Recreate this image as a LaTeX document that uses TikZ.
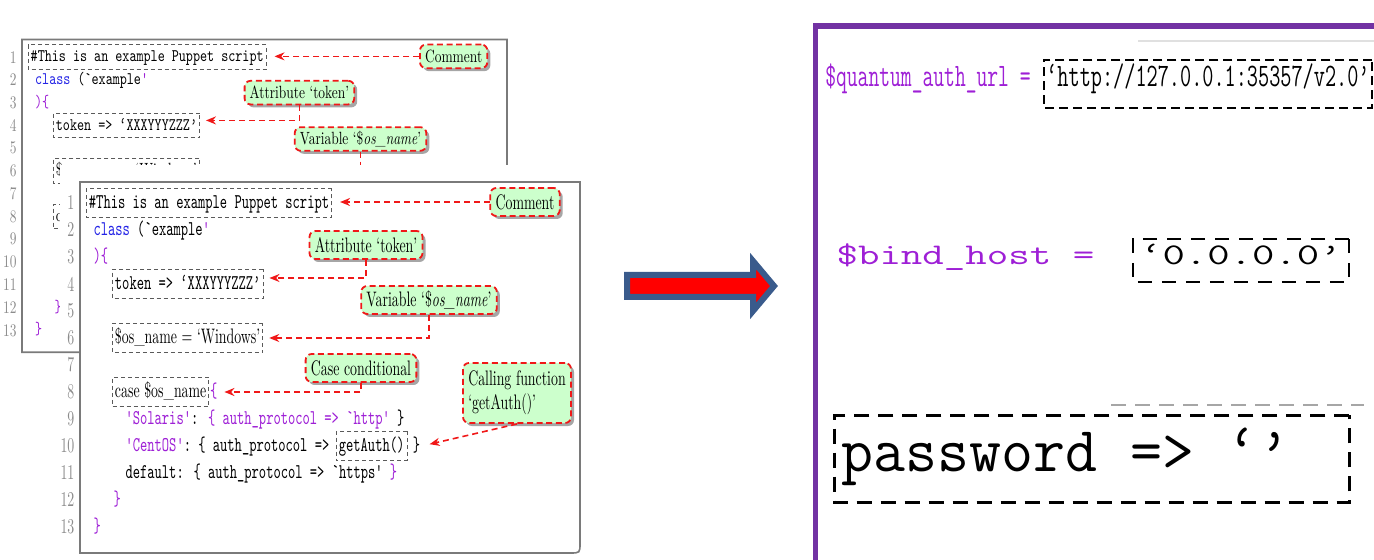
\documentclass[tikz,border=0pt]{standalone}
\usepackage{fontspec}
\usepackage{xcolor}
\usepackage{tikz}
\usetikzlibrary{positioning, arrows.meta, shadows, calc}
\definecolor{codeBlue}{HTML}{2424E6}
\definecolor{codePurple}{HTML}{9E1FD6}
\definecolor{tagRed}{HTML}{F01818}
\definecolor{tagGreen}{HTML}{CCFFCC}
\definecolor{frameGray}{HTML}{7A7A7A}
\definecolor{boxGray}{HTML}{5A5A5A}
\definecolor{lineGray}{HTML}{8C8C8C}
\definecolor{panelPurple}{HTML}{7232A3}
\definecolor{arrowBlue}{HTML}{3A5B8C}
\definecolor{arrowRed}{HTML}{FF0000}
\newcommand{\codefont}{\fontsize{10.5}{12}\selectfont\ttfamily}
\newcommand{\notefont}{\fontsize{10.5}{12}\selectfont\rmfamily}
\newcommand{\ttgap}{\hspace{0.525em}}
\newif\iffullslide

% one slide of the annotated Puppet listing, in its own pixel frame
\newcommand{\puppetlisting}{%
  \draw[listframe] (0,0) -- (500,0) -- (500,361) .. controls (500,371) .. (490,371) -- (0,371) -- cycle;
  \foreach \n in {1,...,13} {
    \node[lineno] (n\n) at (-4, {21+27*(\n-1)}) {\n};
  }
  % code
  \node[codebox] (l1) at (6,21) {\#This is an example Puppet script};
  \node[codeline] (l2) at (12,48) {{\color{codeBlue}class} (\textasciigrave example{\color{codePurple}\textquotesingle}};
  \node[codeline] (l3) at (12,75) {\color{codePurple})\{};
  \node[codebox] (l4) at (32,102) {token => ‘XXXYYYZZZ’};
  \node[notebox] (l6) at (32,156) {\$os\_name = ‘Windows’};
  \node[notebox] (l8) at (32,210) {case \$os\_name};
  \node[codeline] (l12) at (32,318) {\color{codePurple}\}};
  \node[codeline] (l13) at (12,345) {\color{codePurple}\}};
  % notes
  \node[callout] (cmt) at (445,20) {Comment};
  \node[callout] (attr) at (286,63) {Attribute ‘token’};
  \node[callout] (var) at (349,118) {Variable ‘\$\textit{os\_name}’};
  \draw[tagarrow, shorten >=4pt] (cmt.west) -- (cmt.west -| l1.east);
  \draw[tagarrow] (attr.south) |- ([yshift=3pt]l4.east);
  \draw[tagarrow] (var.south) |- (l6.east);
  \iffullslide
    \node[codeline, inner xsep=0.5pt] (l8b) at (l8.east) {\color{codePurple}\{};
    \node[codeline] (l9) at (44,237) {{\color{codePurple}\textquotesingle Solaris\textquotesingle}: {\color{codePurple}\{ auth\_protocol => \textasciigrave http\textquotesingle} \}};
    \node[codeline] (l10) at (44,264) {{\color{codePurple}\textquotesingle CentOS\textquotesingle}: \{ auth\_protocol =>};
    \node[codebox] (l10b) at ([xshift=2.5pt]l10.east) {getAuth()};
    \node[codeline] (l10c) at ([xshift=2pt]l10b.east) {\}};
    \node[codeline] (l11) at (44,291) {default: \{ auth\_protocol => \textasciigrave https\textquotesingle{} {\color{codePurple}\}}};
    \node[callout] (csc) at (281,186) {Case conditional};
    \node[callout, align=left, inner ysep=4pt] (call) at (437,211) {Calling function\\‘getAuth()’};
    \draw[tagarrow] (csc.south) |- (l8b.east);
    \draw[tagarrow, shorten >=4pt] (call.south) -- (l10c.east);
  \fi
}

\begin{document}
\begin{tikzpicture}[x=0.5pt, y=-0.5pt,
  codeline/.style={font=\codefont, anchor=west, inner xsep=1pt, inner ysep=2pt,
    text height=8pt, text depth=2.5pt, xscale=0.66},
  codebox/.style={codeline, draw=boxGray, dash pattern=on 2pt off 1.5pt,
    line width=0.5pt, inner xsep=2pt},
  notebox/.style={codebox, font=\notefont},
  lineno/.style={font=\notefont, text=lineGray, anchor=east, inner sep=1pt, xscale=0.66},
  listframe/.style={draw=frameGray, line width=0.8pt, fill=white},
  callout/.style={draw=tagRed, dash pattern=on 3pt off 1.8pt, line width=0.9pt,
    fill=tagGreen, rounded corners=3pt, font=\notefont, inner xsep=4pt, inner ysep=2pt,
    minimum height=14pt, xscale=0.66,
    drop shadow={shadow xshift=1.5pt, shadow yshift=-1.5pt, opacity=0.35, fill=black}},
  tagarrow/.style={tagRed, line width=0.8pt, dash pattern=on 3pt off 2pt,
    -{Stealth[length=5pt, width=4pt]}, shorten >=3pt},
  urlkey/.style={font=\fontsize{16.4}{18}\selectfont\ttfamily, text=codePurple,
    inner sep=0pt, xscale=0.64, anchor=base west},
  urlbox/.style={font=\fontsize{16.4}{18}\selectfont\ttfamily, draw=black,
    line width=1pt, dash pattern=on 4.5pt off 2.5pt, inner xsep=2pt, inner ysep=3.5pt,
    text height=10pt, text depth=7pt, xscale=0.66, anchor=base west},
  hostkey/.style={font=\fontsize{15}{17}\selectfont\ttfamily, text=codePurple,
    inner sep=0pt, xscale=1.39, anchor=base west},
  hostbox/.style={font=\fontsize{15}{17}\selectfont\ttfamily, draw=black,
    line width=1.3pt, dash pattern=on 7pt off 5pt, inner xsep=2.5pt, inner ysep=3.5pt,
    text height=9.5pt, text depth=5pt, xscale=1.45, anchor=base west},
  passbox/.style={font=\fontsize{32}{34}\selectfont\ttfamily, draw=black,
    line width=1.6pt, dash pattern=on 7.5pt off 4.5pt, inner xsep=3.7pt, inner ysep=8.25pt,
    text height=20pt, text depth=7pt, text width=258pt, align=left,
    xscale=0.97, anchor=base west}]
  \useasboundingbox (0,0) rectangle (1374,560);
  \fill[white] (0,0) rectangle (1374,560);

  % LEFT: earlier slide, partly hidden
  \begin{scope}[shift={(22,39.5)}, xscale=0.97, yscale=0.843, transform shape, name prefix=b-]
    \fullslidefalse
    \puppetlisting
  \end{scope}
  % LEFT: later slide on top
  \fill[white] (60,165) rectangle (590,340);
  \begin{scope}[shift={(80,182)}, name prefix=f-]
    \fullslidetrue
    \puppetlisting
  \end{scope}

  % MIDDLE: block arrow
  \draw[arrowBlue, fill=arrowRed, line width=3pt, line join=miter]
    (627,275) -- (753,275) -- (753,261) -- (774,286) -- (753,311) -- (753,297) -- (627,297) -- cycle;

  % RIGHT: zoomed values
  \begin{scope}
    \clip (0,0) rectangle (1374,560);
    \draw[panelPurple, line width=2.6pt] (815.5,570) -- (815.5,26) -- (1390,26);
    \draw[black!12, line width=0.6pt] (1138,41) -- (1374,41);
    \node[urlkey] (qkey) at (825,87) {\$quantum\_auth\_url =};
    \node[urlbox] (qval) at (1043,87) {‘http://127.0.0.1:35357/v2.0’};
    \node[hostkey] (hkey) at (836,265) {\$bind\_host =};
    \node[hostbox] (hval) at (1131,265) {‘0.0.0.0’};
    \draw[black!35, line width=1pt, dash pattern=on 7.5pt off 4.5pt] (1111,405) -- (1364,405);
    \node[passbox] (pval) at (833,472) {password\ttgap=>\ttgap‘’};
  \end{scope}
\end{tikzpicture}
\end{document}
